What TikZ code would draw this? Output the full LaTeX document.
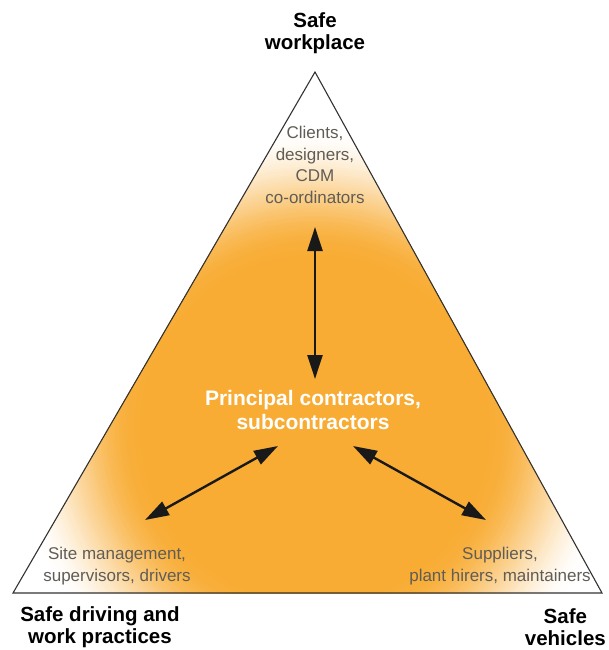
\documentclass[tikz,border=0pt]{standalone}
\usepackage{fontspec}
\setmainfont{Liberation Sans}
\usetikzlibrary{arrows.meta}
\definecolor{myorange}{RGB}{248,172,52}
\definecolor{labelgray}{RGB}{96,92,86}
\definecolor{edgegray}{RGB}{50,50,50}
\tikzset{
  heading/.style={font=\fontsize{20.5}{21.5}\selectfont\bfseries, text=black, align=center, inner sep=0pt},
  inner label/.style={font=\fontsize{17}{21.5}\selectfont, text=labelgray, align=center, inner sep=0pt},
  centre label/.style={font=\fontsize{21}{24}\selectfont\bfseries, text=white, align=center, inner sep=0pt},
  link/.style={line width=2.4pt, draw=black!90, {Triangle[length=24pt,width=15pt]}-{Triangle[length=24pt,width=15pt]}},
}
\begin{document}
\begin{tikzpicture}[x=1pt,y=-1pt]
\useasboundingbox (0,0) rectangle (608,650);
\coordinate (apex) at (315,72);
\coordinate (bl) at (13,593);
\coordinate (br) at (602,593);
\coordinate (glowc) at (315,430);
\begin{scope}
  \clip (apex) -- (bl) -- (br) -- cycle;
  \foreach \i in {0,...,50} {
    \pgfmathsetmacro{\rr}{305 - \i*130/50}
    \pgfmathsetmacro{\tt}{\i/50}
    \pgfmathtruncatemacro{\pp}{100*(3*\tt*\tt - 2*\tt*\tt*\tt)}
    \fill[myorange!\pp!white] (glowc) circle (\rr);
  }
  \fill[myorange] (glowc) circle (175);
\end{scope}
\draw[edgegray, line width=1.1pt, line join=miter] (apex) -- (bl) -- (br) -- cycle;

\node[heading] (workplace) at (315,33) {Safe\\workplace};
\node[heading] (driving) at (100,627) {Safe driving and\\work practices};
\node[heading, anchor=east] (vehicles) at (606,627) {Safe\\vehicles};

\node[inner label] (clients) at (315,165) {Clients,\\designers,\\CDM\\co-ordinators};
\node[inner label] (site) at (117,566) {Site management,\\supervisors, drivers};
\node[inner label] (suppliers) at (500,566) {Suppliers,\\plant hirers, maintainers};
\node[centre label] (principal) at (313,410) {Principal contractors,\\subcontractors};

\coordinate (vtop) at (315,227);
\coordinate (vbot) at (315,379);
\coordinate (ltop) at (278,446);
\coordinate (lbot) at (145,520);
\coordinate (rtop) at (353,446);
\coordinate (rbot) at (486,520);
\draw[link] (vtop) -- (vbot);
\draw[link] (lbot) -- (ltop);
\draw[link] (rtop) -- (rbot);
\end{tikzpicture}
\end{document}
